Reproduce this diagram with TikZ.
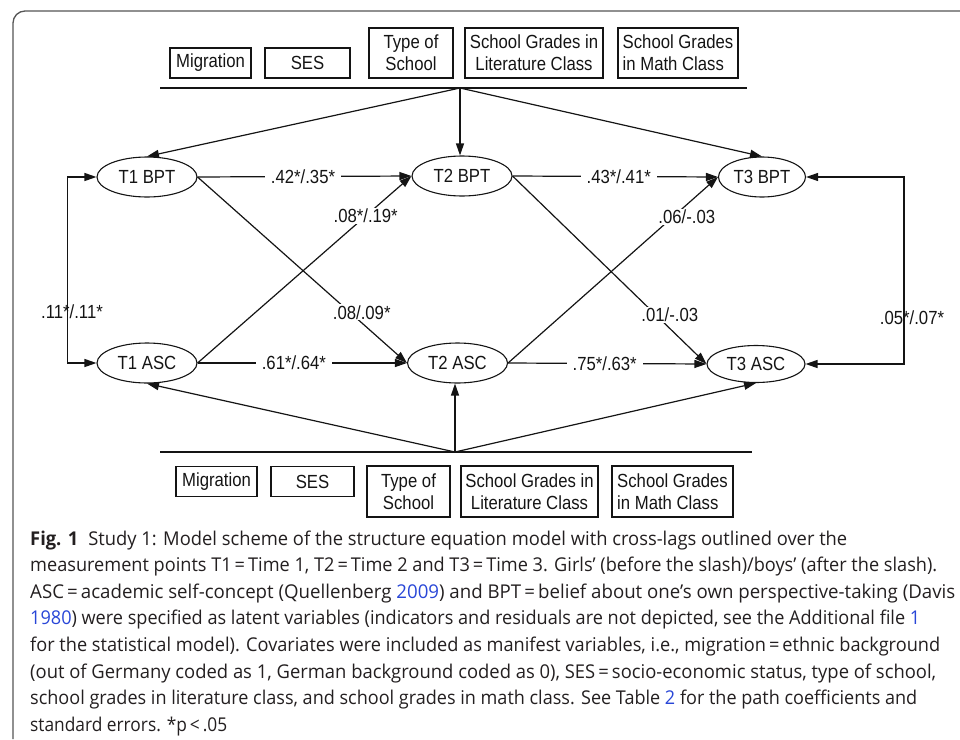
\documentclass[tikz,border=0pt]{standalone}
\usepackage{fontspec}
\usepackage{graphicx}
\usetikzlibrary{arrows.meta,shapes.geometric}
\newfontfamily\diagf[FakeStretch=0.88]{Liberation Sans}
\newfontfamily\capf{Open Sans}
\definecolor{linkblue}{RGB}{40,70,215}
\definecolor{framegray}{RGB}{85,85,85}
\definecolor{capgray}{RGB}{35,31,32}
\definecolor{ink}{RGB}{20,20,20}
\begin{document}
\begin{tikzpicture}[x=1pt,y=-1pt,
  every node/.style={font=\diagf\fontsize{19}{22}\selectfont, inner sep=0pt, text=ink},
  covbox/.style={draw=ink, line width=1.1pt, minimum height=30pt},
  covbox2/.style={covbox, minimum height=50pt},
  latent/.style={draw=ink, ellipse, minimum width=100pt, minimum height=40pt, line width=1.1pt},
  arr/.style={draw=ink, -{Triangle[length=12pt,width=8pt]}, line width=1.2pt},
  darr/.style={draw=ink, {Triangle[length=12pt,width=8pt]}-{Triangle[length=12pt,width=8pt]}, line width=1.2pt},
  hline/.style={draw=ink, line width=1.3pt},
  coef/.style={fill=white, inner xsep=6pt, inner ysep=1pt},
  xcoef/.style={fill=white, inner xsep=1pt, inner ysep=1pt},
  capline/.style={anchor=base west, font=\capf\fontsize{19}{26}\selectfont, text=capgray}
]
\useasboundingbox (0,0) rectangle (960,739);
% frame
\draw[framegray, line width=1.3pt, rounded corners=12pt] (13,739) -- (13,11) -- (960,11);

% top covariates
\node[covbox, minimum width=81pt] (tmig) at (210.5,63) {Migration};
\node[covbox, minimum width=85pt] (tses) at (307.5,63) {SES};
\node[covbox2, minimum width=84pt, align=center] (ttyp) at (411,53) {Type of\\School};
\node[covbox2, minimum width=138pt, align=center] (tlit) at (534,53) {School Grades in\\Literature Class};
\node[covbox2, minimum width=120pt, align=left] (tmat) at (678,53) {School Grades\\in Math Class};
\coordinate (tl) at (160,88);
\coordinate (tr) at (747,88);
\coordinate (thub) at (460,88);
\draw[hline] (tl) -- (tr);

% bottom covariates
\node[covbox, minimum width=81pt] (bmig) at (216.5,481.5) {Migration};
\node[covbox, minimum width=83pt] (bses) at (312.5,481.5) {SES};
\node[covbox2, minimum width=83pt, minimum height=51pt, align=center] (btyp) at (408.5,491.5) {Type of\\School};
\node[covbox2, minimum width=137pt, minimum height=51pt, align=center] (blit) at (529.5,491.5) {School Grades in\\Literature Class};
\node[covbox2, minimum width=121pt, minimum height=51pt, align=left] (bmat) at (672.5,491.5) {School Grades\\in Math Class};
\coordinate (bl) at (160,452);
\coordinate (br) at (752,452);
\coordinate (bhub) at (455,452);
\draw[hline] (bl) -- (br);

% latent variables
\node[latent] (t1b) at (147,177) {T1 BPT};
\node[latent] (t2b) at (462,176) {T2 BPT};
\node[latent, minimum width=87pt] (t3b) at (762,177) {T3 BPT};
\node[latent] (t1a) at (147,363) {T1 ASC};
\node[latent] (t2a) at (457.5,363) {T2 ASC};
\node[latent, minimum width=98pt, minimum height=37pt] (t3a) at (756,364) {T3 ASC};

% covariate paths
\draw[arr] (thub) -- (t1b.north);
\draw[arr] (thub) -- (thub |- t2b.north);
\draw[arr] (thub) -- (t3b.north);
\draw[arr] (bhub) -- (t1a.south);
\draw[arr] (bhub) -- (bhub |- t2a.south);
\draw[arr] (bhub) -- (t3a.south);

% autoregressive paths
\draw[arr] (t1b.east) -- node[coef, pos=0.493] {.42*/.35*} (t2b.west);
\draw[arr] (t2b.east) -- node[coef, pos=0.517] {.43*/.41*} (t3b.west);
\draw[arr] (t1a.east) -- node[coef, pos=0.46] {.61*/.64*} (t2a.west);
\draw[arr] (t2a.east) -- node[coef, pos=0.487] {.75*/.63*} (t3a.west);

% cross-lagged paths
\draw[arr] (t1b.east) -- node[xcoef, pos=0.76, xshift=5pt, yshift=6pt] {.08/.09*} (t2a.west);
\draw[arr] (t1a.east) -- node[xcoef, pos=0.786] {.08*/.19*} (t2b.west);
\draw[arr] (t2b.east) -- node[xcoef, pos=0.78, xshift=6pt, yshift=8pt] {.01/-.03} (t3a.west);
\draw[arr] (t2a.east) -- node[xcoef, pos=0.785, xshift=14pt] {.06/-.03} (t3b.west);

% correlations
\draw[darr] (t1b.west) -- ++(-29,0) |- (t1a.west);
\node (c1) at (72,312) {.11*/.11*};
\draw[darr] (t3b.east) -- ++(98,0) |- (t3a.east);
\node (c2) at (912,318) {.05*/.07*};

% caption
\node[capline] (cap1) at (30,545) {\resizebox{817pt}{\height}{\textbf{Fig. 1}\hspace{0.55em}Study 1: Model scheme of the structure equation model with cross-lags outlined over the}};
\node[capline] (cap2) at (30,571.6) {\resizebox{907pt}{\height}{measurement points T1\,=\,Time 1, T2\,=\,Time 2 and T3\,=\,Time 3. Girls’ (before the slash)/boys’ (after the slash).}};
\node[capline] (cap3) at (30,598.2) {\resizebox{925pt}{\height}{ASC\,=\,academic self-concept (Quellenberg \textcolor{linkblue}{2009}) and BPT\,=\,belief about one’s own perspective-taking (Davis}};
\node[capline] (cap4) at (30,624.8) {\resizebox{890pt}{\height}{\textcolor{linkblue}{1980}) were specified as latent variables (indicators and residuals are not depicted, see the Additional file \textcolor{linkblue}{1}}};
\node[capline] (cap5) at (30,651.4) {\resizebox{910pt}{\height}{for the statistical model). Covariates were included as manifest variables, i.e., migration\,=\,ethnic background}};
\node[capline] (cap6) at (30,678) {\resizebox{906pt}{\height}{(out of Germany coded as 1, German background coded as 0), SES\,=\,socio-economic status, type of school,}};
\node[capline] (cap7) at (30,704.6) {\resizebox{887pt}{\height}{school grades in literature class, and school grades in math class. See Table \textcolor{linkblue}{2} for the path coefficients and}};
\node[capline] (cap8) at (30,731.2) {\resizebox{197pt}{\height}{standard errors. *p\,<\,.05}};
\end{tikzpicture}
\end{document}
